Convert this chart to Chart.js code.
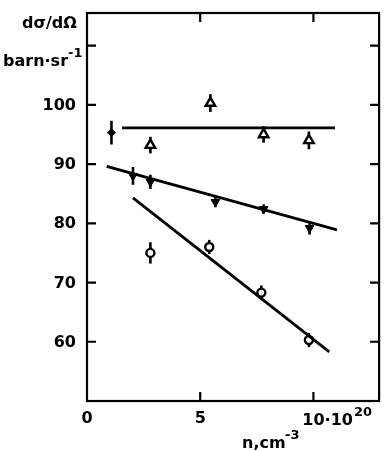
<!DOCTYPE html>
<html>
<head>
<meta charset="utf-8">
<script src="https://cdn.jsdelivr.net/npm/chart.js@4/dist/chart.umd.min.js"></script>
<style>
  html, body { margin: 0; padding: 0; background: #fff; }
  #wrap { width: 387px; height: 451px; position: relative; }
</style>
</head>
<body>
<div id="wrap"><canvas id="plot"></canvas></div>
<script>
// --- data ---
const triX = [2.8, 5.45, 7.8, 9.8];
const triY = [93.2, 100.3, 95.0, 94.0];
const triErr = [1.4, 1.5, 1.4, 1.5];

const diaX = [1.08];
const diaY = [95.3];
const diaErr = [2.0];

const invX = [2.03, 2.8, 5.67, 7.8, 9.83];
const invY = [88.0, 87.0, 83.6, 82.4, 79.2];
const invErr = [1.5, 1.2, 0.9, 0.8, 1.1];

const circX = [2.8, 5.4, 7.7, 9.8];
const circY = [75.0, 76.0, 68.3, 60.3];
const circErr = [1.8, 1.2, 1.2, 1.2];

// fitted straight lines (end points)
const fitTopX = [1.55, 10.95], fitTopY = [96.1, 96.1];
const fitMidX = [0.87, 11.04], fitMidY = [89.6, 78.9];
const fitLowX = [2.03, 10.7], fitLowY = [84.3, 58.3];

const yTicks = [60, 70, 80, 90, 100, 110];
const yLabels = ['60', '70', '80', '90', '100', ''];
const xTicks = [0, 5, 10];
const xLabels = ['0', '5', '10\u00b710'];

const pts = (xs, ys) => xs.map((x, i) => ({ x: x, y: ys[i] }));
const FONT = 'bold 16px "DejaVu Sans", sans-serif';
const SUP = 'bold 13px "DejaVu Sans", sans-serif';

// vertical error bars, drawn under the markers
const errorBars = {
    id: 'errorBars',
    beforeDatasetsDraw(chart) {
        const ctx = chart.ctx;
        const xs = chart.scales.x, ys = chart.scales.y;
        ctx.save();
        ctx.strokeStyle = '#000';
        ctx.lineWidth = 2.6;
        chart.data.datasets.forEach(ds => {
            if (!ds.errs) return;
            ds.data.forEach((p, i) => {
                const px = xs.getPixelForValue(p.x);
                ctx.beginPath();
                ctx.moveTo(px, ys.getPixelForValue(p.y - ds.errs[i]));
                ctx.lineTo(px, ys.getPixelForValue(p.y + ds.errs[i]));
                ctx.stroke();
            });
        });
        ctx.restore();
    }
};

// frame, inward ticks and all axis text
const frame = {
    id: 'frame',
    afterDraw(chart) {
        const ctx = chart.ctx;
        const a = chart.chartArea;
        const xs = chart.scales.x, ys = chart.scales.y;
        ctx.save();
        ctx.strokeStyle = '#000';
        ctx.lineWidth = 2.2;
        ctx.strokeRect(a.left, a.top, a.right - a.left, a.bottom - a.top);

        ctx.beginPath();
        yTicks.forEach(v => {
            const py = ys.getPixelForValue(v);
            ctx.moveTo(a.left, py); ctx.lineTo(a.left + 9, py);
            ctx.moveTo(a.right, py); ctx.lineTo(a.right - 9, py);
        });
        xTicks.slice(1).forEach(v => {
            const px = xs.getPixelForValue(v);
            ctx.moveTo(px, a.bottom); ctx.lineTo(px, a.bottom - 9);
            ctx.moveTo(px, a.top); ctx.lineTo(px, a.top + 9);
        });
        ctx.stroke();

        ctx.fillStyle = '#000';
        ctx.font = FONT;
        ctx.textBaseline = 'middle';
        ctx.textAlign = 'right';
        yTicks.forEach((v, i) => {
            if (yLabels[i]) ctx.fillText(yLabels[i], a.left - 11, ys.getPixelForValue(v) + 1);
        });

        ctx.textAlign = 'center';
        xTicks.forEach((v, i) => {
            const px = xs.getPixelForValue(v);
            if (i < 2) {
                ctx.fillText(xLabels[i], px, a.bottom + 18);
            } else {
                ctx.textAlign = 'left';
                const w10 = ctx.measureText('10').width;
                const x0 = px - w10 / 2;
                ctx.fillText(xLabels[i], x0, a.bottom + 20);
                const w = ctx.measureText(xLabels[i]).width;
                ctx.font = SUP;
                ctx.fillText('20', x0 + w + 1, a.bottom + 12);
                ctx.font = FONT;
            }
        });

        // axis titles
        ctx.textAlign = 'left';
        ctx.fillText('d\u03c3/d\u03a9', 22, 24);
        ctx.fillText('barn\u00b7sr', 3, 62);
        ctx.font = SUP;
        ctx.fillText('-1', 68, 54);

        ctx.font = FONT;
        ctx.fillText('n,cm', 242, 444);
        ctx.font = SUP;
        ctx.fillText('-3', 285, 436);
        ctx.restore();
    }
};

const lineDs = (xs, ys) => ({
    type: 'line',
    data: pts(xs, ys),
    borderColor: '#000',
    borderWidth: 2.8,
    pointRadius: 0,
    fill: false,
    tension: 0
});

new Chart(document.getElementById('plot'), {
    type: 'scatter',
    data: {
        datasets: [
            lineDs(fitTopX, fitTopY),
            lineDs(fitMidX, fitMidY),
            lineDs(fitLowX, fitLowY),
            {
                data: pts(triX, triY), errs: triErr,
                pointStyle: 'triangle', pointRadius: 5.5,
                backgroundColor: '#fff', borderColor: '#000', borderWidth: 2.4
            },
            {
                data: pts(diaX, diaY), errs: diaErr,
                pointStyle: 'rectRot', pointRadius: 4,
                backgroundColor: '#000', borderColor: '#000', borderWidth: 1
            },
            {
                data: pts(invX, invY), errs: invErr,
                pointStyle: 'triangle', rotation: 180, pointRadius: 5,
                backgroundColor: '#000', borderColor: '#000', borderWidth: 1
            },
            {
                data: pts(circX, circY), errs: circErr,
                pointStyle: 'circle', pointRadius: 4,
                backgroundColor: '#fff', borderColor: '#000', borderWidth: 2.4
            }
        ]
    },
    options: {
        responsive: true,
        maintainAspectRatio: false,
        devicePixelRatio: 1,
        animation: false,
        layout: { padding: { left: 87, top: 13, right: 2, bottom: 50 } },
        plugins: { legend: { display: false }, tooltip: { enabled: false } },
        scales: {
            x: { type: 'linear', min: 0, max: 12.9, display: false },
            y: { type: 'linear', min: 50, max: 115.5, display: false }
        }
    },
    plugins: [errorBars, frame]
});
</script>
</body>
</html>
